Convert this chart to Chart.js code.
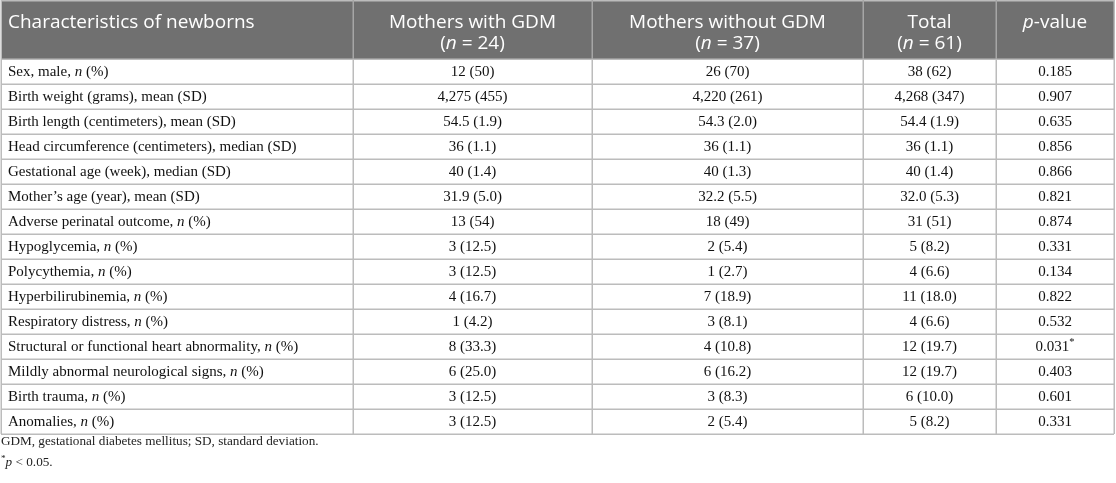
<!DOCTYPE html>
<html>
<head>
<meta charset="utf-8">
<script src="https://cdn.jsdelivr.net/npm/chart.js@4.4.1/dist/chart.umd.min.js"></script>
<style>
  html, body { margin: 0; padding: 0; background: #fff; }
  #wrap { width: 1116px; height: 483px; position: relative; }
</style>
</head>
<body>
<div id="wrap"><canvas id="table"></canvas></div>
<script>
// _x_ = italic, ^x^ = superscript
const headerLabels = [
  ['Characteristics of newborns'],
  ['Mothers with GDM', '(_n_ = 24)'],
  ['Mothers without GDM', '(_n_ = 37)'],
  ['Total', '(_n_ = 61)'],
  ['_p_-value']
];

const rowLabels = [
  'Sex, male, _n_ (%)',
  'Birth weight (grams), mean (SD)',
  'Birth length (centimeters), mean (SD)',
  'Head circumference (centimeters), median (SD)',
  'Gestational age (week), median (SD)',
  'Mother\u2019s age (year), mean (SD)',
  'Adverse perinatal outcome, _n_ (%)',
  'Hypoglycemia, _n_ (%)',
  'Polycythemia, _n_ (%)',
  'Hyperbilirubinemia, _n_ (%)',
  'Respiratory distress, _n_ (%)',
  'Structural or functional heart abnormality, _n_ (%)',
  'Mildly abnormal neurological signs, _n_ (%)',
  'Birth trauma, _n_ (%)',
  'Anomalies, _n_ (%)'
];

const withGdm = ['12 (50)', '4,275 (455)', '54.5 (1.9)', '36 (1.1)', '40 (1.4)', '31.9 (5.0)', '13 (54)',
  '3 (12.5)', '3 (12.5)', '4 (16.7)', '1 (4.2)', '8 (33.3)', '6 (25.0)', '3 (12.5)', '3 (12.5)'];
const withoutGdm = ['26 (70)', '4,220 (261)', '54.3 (2.0)', '36 (1.1)', '40 (1.3)', '32.2 (5.5)', '18 (49)',
  '2 (5.4)', '1 (2.7)', '7 (18.9)', '3 (8.1)', '4 (10.8)', '6 (16.2)', '3 (8.3)', '2 (5.4)'];
const total = ['38 (62)', '4,268 (347)', '54.4 (1.9)', '36 (1.1)', '40 (1.4)', '32.0 (5.3)', '31 (51)',
  '5 (8.2)', '4 (6.6)', '11 (18.0)', '4 (6.6)', '12 (19.7)', '12 (19.7)', '6 (10.0)', '5 (8.2)'];
const pValues = ['0.185', '0.907', '0.635', '0.856', '0.866', '0.821', '0.874',
  '0.331', '0.134', '0.822', '0.532', '0.031^*^', '0.403', '0.601', '0.331'];

const footnotes = [
  'GDM, gestational diabetes mellitus; SD, standard deviation.',
  '^*^_p_ < 0.05.'
];

// column edges in x-axis units
const colEdges = [0, 352, 591, 862, 995, 1113];

const HEAD_FONT = '"Open Sans", "Noto Sans", sans-serif';
const BODY_FONT = '"Liberation Serif", "Times New Roman", serif';

function parseRich(str) {
  const parts = [];
  let italic = false, sup = false, buf = '';
  for (const ch of str) {
    if (ch === '_' || ch === '^') {
      if (buf) parts.push({ text: buf, italic, sup });
      buf = '';
      if (ch === '_') italic = !italic; else sup = !sup;
    } else {
      buf += ch;
    }
  }
  if (buf) parts.push({ text: buf, italic, sup });
  return parts;
}

function drawRich(ctx, str, x, y, size, family, align) {
  const parts = parseRich(str);
  const fontFor = p => (p.italic ? 'italic ' : '') + (p.sup ? size * 0.7 : size) + 'px ' + family;
  let width = 0;
  parts.forEach(p => { ctx.font = fontFor(p); p.w = ctx.measureText(p.text).width; width += p.w; });
  let cx = align === 'center' ? x - width / 2 : x;
  ctx.textAlign = 'left';
  ctx.textBaseline = 'middle';
  parts.forEach(p => {
    ctx.font = fontFor(p);
    ctx.fillText(p.text, cx, p.sup ? y - size * 0.3 : y);
    cx += p.w;
  });
}

const tablePlugin = {
  id: 'tablePlugin',
  afterDraw(chart) {
    const ctx = chart.ctx;
    const xs = chart.scales.x;
    const ys = chart.scales.y;
    const left = xs.getPixelForValue(colEdges[0]);
    const right = xs.getPixelForValue(colEdges[colEdges.length - 1]);
    const rowH = ys.getPixelForValue(1) - ys.getPixelForValue(0);
    const top = ys.getPixelForValue(0) - rowH / 2;
    const bottom = ys.getPixelForValue(rowLabels.length - 1) + rowH / 2;
    const columns = [null, withGdm, withoutGdm, total, pValues];

    ctx.save();

    // header band
    ctx.fillStyle = '#707070';
    ctx.fillRect(left, 0, right - left, top);

    ctx.fillStyle = '#ffffff';
    headerLabels.forEach((lines, c) => {
      const x0 = xs.getPixelForValue(colEdges[c]);
      const x1 = xs.getPixelForValue(colEdges[c + 1]);
      lines.forEach((line, k) => {
        const y = 23 + k * 21;
        if (c === 0) drawRich(ctx, line, x0 + 7, y, 19, HEAD_FONT, 'left');
        else drawRich(ctx, line, (x0 + x1) / 2, y, 19, HEAD_FONT, 'center');
      });
    });

    // grid lines
    ctx.lineWidth = 1.5;
    ctx.strokeStyle = '#bcbcbc';
    for (let i = 0; i <= rowLabels.length; i++) {
      const y = Math.round(top + i * rowH) + 0.25;
      ctx.beginPath();
      ctx.moveTo(left, y);
      ctx.lineTo(right, y);
      ctx.stroke();
    }
    ctx.beginPath();
    ctx.moveTo(left, 0.75);
    ctx.lineTo(right, 0.75);
    ctx.stroke();
    colEdges.forEach((v, c) => {
      const x = Math.round(xs.getPixelForValue(v)) + 0.25;
      ctx.strokeStyle = (c === 0 || c === colEdges.length - 1) ? '#bcbcbc' : '#a6a6a6';
      ctx.beginPath();
      ctx.moveTo(x, 0);
      ctx.lineTo(x, top);
      ctx.stroke();
      ctx.strokeStyle = '#bcbcbc';
      ctx.beginPath();
      ctx.moveTo(x, top);
      ctx.lineTo(x, bottom);
      ctx.stroke();
    });

    // body cells
    ctx.fillStyle = '#111111';
    rowLabels.forEach((label, r) => {
      const y = ys.getPixelForValue(r) + 0.5;
      drawRich(ctx, label, xs.getPixelForValue(colEdges[0]) + 7, y, 15, BODY_FONT, 'left');
      for (let c = 1; c < columns.length; c++) {
        const x0 = xs.getPixelForValue(colEdges[c]);
        const x1 = xs.getPixelForValue(colEdges[c + 1]);
        drawRich(ctx, columns[c][r], (x0 + x1) / 2, y, 15, BODY_FONT, 'center');
      }
    });

    // footnotes
    ctx.fillStyle = '#222222';
    footnotes.forEach((note, k) => {
      drawRich(ctx, note, left, bottom + 8 + k * 21, 13.2, BODY_FONT, 'left');
    });

    ctx.restore();
  }
};

new Chart(document.getElementById('table').getContext('2d'), {
  type: 'bar',
  data: {
    labels: rowLabels,
    datasets: []
  },
  options: {
    responsive: true,
    maintainAspectRatio: false,
    animation: false,
    indexAxis: 'y',
    layout: { padding: { left: 1, right: 2, top: 59, bottom: 49 } },
    plugins: {
      legend: { display: false },
      tooltip: { enabled: false }
    },
    scales: {
      x: { type: 'linear', min: colEdges[0], max: colEdges[colEdges.length - 1], display: false },
      y: { type: 'category', labels: rowLabels, offset: true, display: false }
    }
  },
  plugins: [tablePlugin]
});
</script>
</body>
</html>
